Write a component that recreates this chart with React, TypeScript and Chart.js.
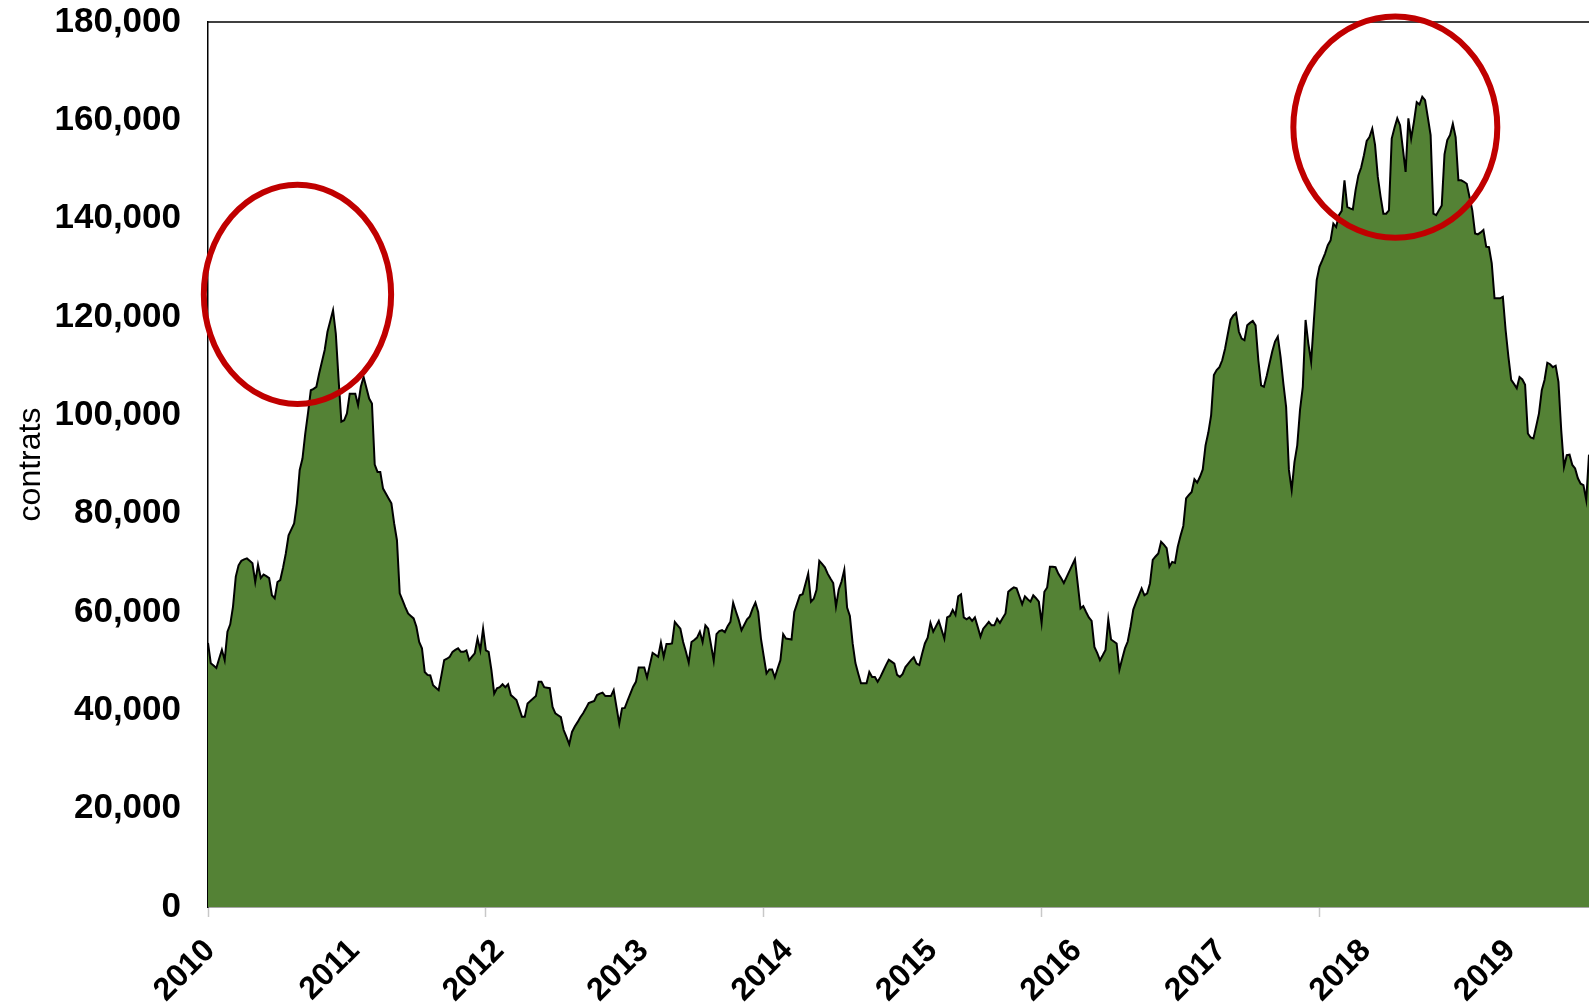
import React, { useEffect, useRef } from 'react';
import { Chart, registerables } from 'chart.js';

Chart.register(...registerables);

// ---- axis / label data ----
const YEAR_LABELS = ['2010', '2011', '2012', '2013', '2014', '2015', '2016', '2017', '2018', '2019'];
const WEEKS_PER_LABEL = 52;
const WEEKS_PER_TICK_MARK = 100;
const Y_MAX = 180000;
const Y_STEP = 20000;
const Y_TITLE = 'contrats';

// ---- weekly open interest, thousands of contracts (one block per labelled year) ----
const W2010 = [53.7, 49.6, 49.1, 48.6, 50.5, 52.3, 50.2, 56.0, 57.5, 61.1, 67.2, 69.5, 70.4, 70.7, 70.9, 70.4, 69.9, 66.1, 69.6, 66.9, 67.6, 67.3, 66.9, 63.4, 62.8, 66.1, 66.5, 69.0, 71.9, 75.6, 76.8, 78.0, 82.1, 88.9, 91.2, 96.3, 100.5, 105.1, 105.4, 105.8, 108.5, 110.9, 113.3, 117.0, 119.2, 121.4, 116.6, 107.2, 98.7, 99.0, 100.4, 104.4];
const W2011 = [104.4, 104.4, 102.1, 105.8, 107.8, 105.6, 103.4, 102.4, 90.0, 88.5, 88.5, 85.1, 84.1, 83.1, 82.1, 78.0, 74.6, 63.8, 62.4, 61.0, 59.7, 59.2, 58.7, 57.0, 53.9, 52.6, 47.8, 47.2, 47.1, 45.1, 44.6, 44.1, 47.1, 50.2, 50.5, 50.9, 51.9, 52.3, 52.6, 51.9, 51.9, 52.2, 50.2, 50.9, 51.6, 54.6, 52.2, 56.6, 52.2, 51.9, 48.2, 43.4];
const W2012 = [44.5, 44.7, 45.3, 44.7, 45.3, 43.1, 42.6, 42.1, 40.4, 38.7, 38.7, 41.4, 41.9, 42.4, 42.9, 45.8, 45.8, 44.7, 44.6, 44.5, 40.7, 39.4, 39.0, 38.6, 36.0, 34.6, 33.1, 35.6, 36.7, 37.6, 38.6, 39.4, 40.4, 41.5, 41.7, 41.9, 43.1, 43.4, 43.6, 42.9, 42.9, 42.9, 44.1, 40.7, 37.3, 40.4, 40.5, 42.0, 43.4, 44.8, 45.8, 48.7];
const W2013 = [48.7, 48.7, 46.7, 49.2, 51.7, 51.3, 50.9, 53.8, 50.9, 53.5, 53.5, 53.6, 58.0, 57.3, 56.6, 53.9, 51.9, 49.7, 53.9, 54.3, 54.8, 56.0, 53.9, 57.3, 56.6, 53.4, 50.1, 55.5, 56.1, 56.3, 55.9, 57.1, 58.0, 61.9, 60.1, 58.4, 56.3, 57.4, 58.5, 59.1, 60.7, 61.9, 60.0, 54.6, 51.0, 47.5, 48.3, 48.3, 46.7, 48.5, 50.2, 55.5];
const W2014 = [54.6, 54.5, 54.4, 60.0, 61.7, 63.4, 63.6, 65.7, 67.8, 62.1, 62.7, 64.5, 70.4, 69.8, 69.1, 67.8, 66.8, 65.9, 61.1, 64.6, 66.2, 68.6, 60.9, 59.2, 53.6, 49.6, 47.5, 45.5, 45.5, 45.5, 47.8, 46.8, 46.8, 45.8, 46.8, 48.0, 49.2, 50.3, 49.9, 49.5, 47.2, 46.8, 47.4, 48.8, 49.5, 50.2, 50.8, 49.5, 49.2, 51.5, 53.6, 54.8];
const W2015 = [57.8, 56.0, 57.1, 58.2, 56.4, 54.6, 58.9, 59.2, 60.4, 59.4, 63.2, 63.6, 58.9, 58.5, 58.9, 58.2, 58.9, 57.0, 55.0, 56.6, 57.3, 58.0, 57.3, 57.3, 58.6, 57.8, 58.8, 59.7, 64.1, 64.6, 65.0, 64.8, 63.2, 61.6, 63.2, 62.6, 62.1, 63.4, 62.8, 62.1, 57.8, 64.1, 65.0, 69.2, 69.2, 69.1, 67.8, 66.9, 65.9, 67.1, 68.3, 69.5];
const W2016 = [70.7, 65.7, 60.7, 61.2, 60.0, 58.9, 58.2, 52.9, 51.7, 50.2, 51.2, 52.3, 58.5, 54.4, 54.0, 53.6, 48.3, 50.5, 52.6, 54.0, 57.0, 60.5, 62.0, 63.4, 64.8, 63.4, 63.8, 65.8, 70.6, 71.3, 71.9, 74.3, 73.7, 73.0, 69.2, 70.2, 70.0, 73.3, 75.5, 77.5, 83.1, 83.8, 84.4, 87.0, 86.3, 87.5, 89.0, 93.9, 96.5, 100.0, 108.2, 109.2];
const W2017 = [109.8, 111.2, 113.5, 116.5, 119.4, 120.3, 120.8, 117.0, 115.6, 115.3, 118.3, 118.8, 119.2, 118.3, 111.2, 106.1, 105.8, 108.0, 110.5, 113.0, 115.0, 116.0, 111.9, 106.5, 101.7, 88.9, 84.8, 90.5, 93.9, 101.1, 105.8, 119.4, 114.6, 110.9, 119.4, 127.5, 130.2, 131.5, 132.9, 134.6, 135.6, 139.0, 138.3, 140.7, 141.6, 147.8, 142.4, 142.1, 141.9, 145.8, 148.8, 150.4];
const W2018 = [152.9, 155.8, 156.6, 158.3, 155.0, 148.5, 144.5, 141.0, 141.0, 141.7, 156.3, 158.5, 160.4, 159.0, 154.3, 149.5, 160.4, 156.3, 159.7, 163.7, 163.2, 164.8, 164.1, 160.6, 157.0, 141.0, 140.7, 141.7, 142.7, 153.1, 156.0, 157.0, 159.3, 156.6, 147.8, 147.8, 147.5, 147.1, 144.4, 141.7, 137.0, 136.8, 137.2, 137.7, 134.3, 134.2, 130.9, 123.8, 123.8, 123.8, 124.1, 117.3];
const W2019 = [111.9, 107.2, 106.4, 105.5, 107.8, 107.3, 106.2, 96.3, 95.5, 95.3, 97.8, 100.4, 105.1, 107.2, 110.7, 110.4, 109.8, 110.1, 106.8, 97.0, 89.5, 91.9, 92.0, 89.9, 89.2, 87.2, 86.1, 85.8, 82.8, 92.0];

// ---- highlighted zones (centre in weeks / contracts, half-extent in weeks / contracts) ----
const HIGHLIGHT_WEEKS = [32.2, 427.3];
const HIGHLIGHT_VALUES = [124600, 158600];
const HIGHLIGHT_HALF_WEEKS = [33.7, 36.7];
const HIGHLIGHT_HALF_VALUES = [22300, 22500];

const SERIES_K = [...W2010, ...W2011, ...W2012, ...W2013, ...W2014, ...W2015, ...W2016, ...W2017, ...W2018, ...W2019];
const OPEN_INTEREST = SERIES_K.map((v) => Math.round(v * 1000));

const FONT = 'Liberation Sans';

const framePlugin = {
  id: 'frameAndHighlights',
  afterDatasetsDraw(chart: any) {
    const { ctx, chartArea } = chart;
    ctx.save();
    ctx.strokeStyle = '#000000';
    ctx.lineWidth = 1.5;
    ctx.beginPath();
    ctx.moveTo(chartArea.left, chartArea.top);
    ctx.lineTo(chartArea.right, chartArea.top);
    ctx.stroke();
    ctx.restore();
  },
  afterDraw(chart: any) {
    const { ctx } = chart;
    const x = chart.scales.x;
    const y = chart.scales.y;
    ctx.save();
    ctx.strokeStyle = '#c00000';
    ctx.lineWidth = 6;
    for (let i = 0; i < HIGHLIGHT_WEEKS.length; i++) {
      const cx = x.getPixelForValue(HIGHLIGHT_WEEKS[i]);
      const cy = y.getPixelForValue(HIGHLIGHT_VALUES[i]);
      const rx = Math.abs(x.getPixelForValue(HIGHLIGHT_WEEKS[i] + HIGHLIGHT_HALF_WEEKS[i]) - cx);
      const ry = Math.abs(y.getPixelForValue(HIGHLIGHT_VALUES[i] + HIGHLIGHT_HALF_VALUES[i]) - cy);
      ctx.beginPath();
      ctx.ellipse(cx, cy, rx, ry, 0, 0, Math.PI * 2);
      ctx.stroke();
    }
    ctx.restore();
  },
};

export default function App() {
  const canvasRef = useRef<HTMLCanvasElement | null>(null);

  useEffect(() => {
    const canvas = canvasRef.current;
    if (!canvas) return;
    const points = OPEN_INTEREST.map((v, i) => ({ x: i, y: v }));
    const chart = new Chart(canvas, {
      type: 'line',
      data: {
        datasets: [
          {
            data: points,
            borderColor: '#000000',
            borderWidth: 2,
            backgroundColor: '#548235',
            fill: 'origin',
            pointRadius: 0,
            tension: 0,
          },
        ],
      },
      options: {
        animation: false,
        responsive: false,
        devicePixelRatio: 1,
        layout: { padding: { top: 22, right: 0, bottom: 0, left: 0 } },
        plugins: { legend: { display: false }, tooltip: { enabled: false } },
        scales: {
          x: {
            type: 'linear',
            min: 0,
            max: OPEN_INTEREST.length - 1,
            z: 1,
            border: { display: true, color: '#a6a6a6', width: 2 },
            grid: {
              drawOnChartArea: false,
              drawTicks: true,
              tickLength: 10,
              tickWidth: 1.5,
              tickColor: (ctx: any) =>
                ctx.tick && Math.round(ctx.tick.value) % WEEKS_PER_TICK_MARK === 0 ? '#c8c8c8' : 'rgba(0,0,0,0)',
            },
            ticks: {
              stepSize: 4,
              autoSkip: false,
              maxRotation: 45,
              minRotation: 45,
              padding: 15,
              labelOffset: 2,
              color: '#000000',
              font: { family: FONT, weight: 'bold', size: 32 },
              callback: (value: any) => {
                const v = Math.round(Number(value));
                if (v % WEEKS_PER_LABEL !== 0) return '';
                return YEAR_LABELS[v / WEEKS_PER_LABEL] ?? '';
              },
            },
            afterFit: (s: any) => {
              s.height = 95;
              s.paddingLeft = 0;
              s.paddingRight = 0;
            },
          },
          y: {
            min: 0,
            max: Y_MAX,
            z: 1,
            border: { display: true, color: '#000000', width: 1.5 },
            grid: { drawOnChartArea: false, drawTicks: false },
            ticks: {
              stepSize: Y_STEP,
              padding: 27,
              color: '#000000',
              font: { family: FONT, weight: 'bold', size: 35 },
              callback: (value: any) => Number(value).toLocaleString('en-US'),
            },
            title: {
              display: true,
              text: Y_TITLE,
              color: '#000000',
              font: { family: FONT, size: 32 },
              padding: { top: 12, bottom: 0 },
            },
            afterFit: (s: any) => {
              s.width = 208;
              s.paddingTop = 0;
              s.paddingBottom = 0;
            },
          },
        },
      } as any,
      plugins: [framePlugin],
    });
    return () => chart.destroy();
  }, []);

  return (
    <div style={{ position: 'absolute', left: 0, top: 0, width: 1589, height: 1002, background: '#ffffff', overflow: 'hidden' }}>
      <canvas ref={canvasRef} width={1589} height={1002} style={{ display: 'block' }} />
    </div>
  );
}
